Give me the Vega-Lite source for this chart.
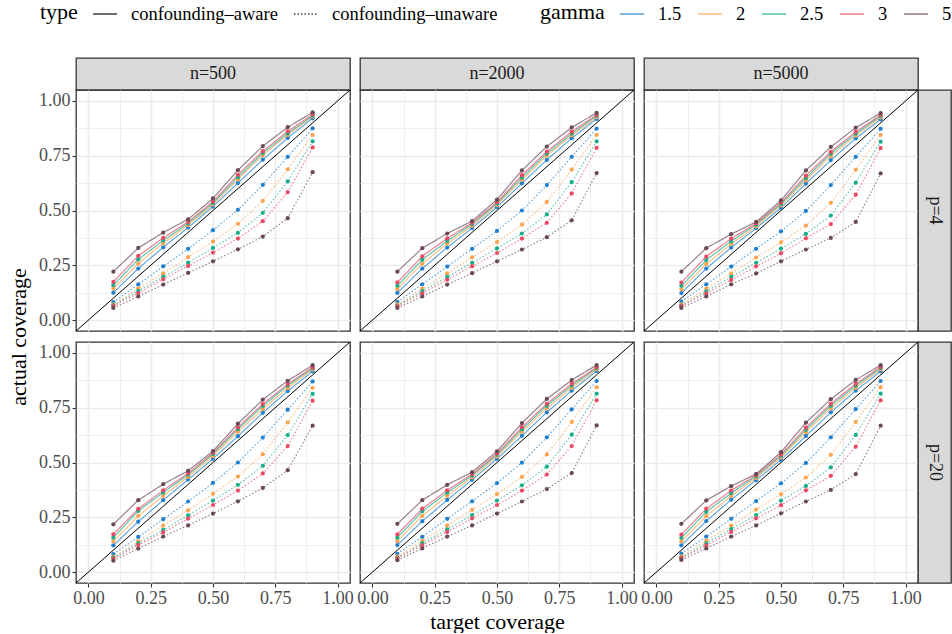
{
"$schema":"https://vega.github.io/schema/vega-lite/v6.json",
"padding":{"left":6,"top":1,"right":0,"bottom":0},
"autosize":{"type":"pad"},
"config":{
 "font":"Liberation Serif",
 "view":{"stroke":"#333333","strokeWidth":1.3},
 "style":{"guide-label":{"font":"Liberation Serif"},"guide-title":{"font":"Liberation Serif","fontWeight":"normal"}},
 "axis":{"labelFont":"Liberation Serif","labelFontSize":18,"labelColor":"#4D4D4D","tickColor":"#333333","tickSize":4,"tickWidth":1.1,"domain":false,"gridColor":"#EBEBEB","gridWidth":1.6,"titleFont":"Liberation Serif","titleFontSize":22,"titleFontWeight":"normal","titleColor":"black","labelFlush":false,"labelPadding":2},
 "legend":{"direction":"horizontal","titleOrient":"left","titleFont":"Liberation Serif","titleFontSize":22,"titleFontWeight":"normal","titleColor":"black","labelFont":"Liberation Serif","labelFontSize":18.5,"labelColor":"black","labelLimit":300,"symbolType":"stroke","symbolSize":576,"symbolStrokeWidth":1.5,"labelOffset":13,"columnPadding":13,"titlePadding":14,"gridAlign":"none"}
},
"data":{"values":[
{"n":500,"p":4,"g":"1.5","t":"aware","x":0.1,"y":0.125},{"n":500,"p":4,"g":"1.5","t":"aware","x":0.2,"y":0.235},{"n":500,"p":4,"g":"1.5","t":"aware","x":0.3,"y":0.332},{"n":500,"p":4,"g":"1.5","t":"aware","x":0.4,"y":0.422},{"n":500,"p":4,"g":"1.5","t":"aware","x":0.5,"y":0.518},{"n":500,"p":4,"g":"1.5","t":"aware","x":0.6,"y":0.625},{"n":500,"p":4,"g":"1.5","t":"aware","x":0.7,"y":0.732},{"n":500,"p":4,"g":"1.5","t":"aware","x":0.8,"y":0.831},{"n":500,"p":4,"g":"1.5","t":"aware","x":0.9,"y":0.921},
{"n":500,"p":4,"g":"2","t":"aware","x":0.1,"y":0.143},{"n":500,"p":4,"g":"2","t":"aware","x":0.2,"y":0.258},{"n":500,"p":4,"g":"2","t":"aware","x":0.3,"y":0.351},{"n":500,"p":4,"g":"2","t":"aware","x":0.4,"y":0.433},{"n":500,"p":4,"g":"2","t":"aware","x":0.5,"y":0.527},{"n":500,"p":4,"g":"2","t":"aware","x":0.6,"y":0.642},{"n":500,"p":4,"g":"2","t":"aware","x":0.7,"y":0.753},{"n":500,"p":4,"g":"2","t":"aware","x":0.8,"y":0.845},{"n":500,"p":4,"g":"2","t":"aware","x":0.9,"y":0.928},
{"n":500,"p":4,"g":"2.5","t":"aware","x":0.1,"y":0.159},{"n":500,"p":4,"g":"2.5","t":"aware","x":0.2,"y":0.277},{"n":500,"p":4,"g":"2.5","t":"aware","x":0.3,"y":0.363},{"n":500,"p":4,"g":"2.5","t":"aware","x":0.4,"y":0.441},{"n":500,"p":4,"g":"2.5","t":"aware","x":0.5,"y":0.534},{"n":500,"p":4,"g":"2.5","t":"aware","x":0.6,"y":0.652},{"n":500,"p":4,"g":"2.5","t":"aware","x":0.7,"y":0.762},{"n":500,"p":4,"g":"2.5","t":"aware","x":0.8,"y":0.852},{"n":500,"p":4,"g":"2.5","t":"aware","x":0.9,"y":0.933},
{"n":500,"p":4,"g":"3","t":"aware","x":0.1,"y":0.174},{"n":500,"p":4,"g":"3","t":"aware","x":0.2,"y":0.293},{"n":500,"p":4,"g":"3","t":"aware","x":0.3,"y":0.375},{"n":500,"p":4,"g":"3","t":"aware","x":0.4,"y":0.448},{"n":500,"p":4,"g":"3","t":"aware","x":0.5,"y":0.541},{"n":500,"p":4,"g":"3","t":"aware","x":0.6,"y":0.663},{"n":500,"p":4,"g":"3","t":"aware","x":0.7,"y":0.771},{"n":500,"p":4,"g":"3","t":"aware","x":0.8,"y":0.861},{"n":500,"p":4,"g":"3","t":"aware","x":0.9,"y":0.939},
{"n":500,"p":4,"g":"5","t":"aware","x":0.1,"y":0.221},{"n":500,"p":4,"g":"5","t":"aware","x":0.2,"y":0.329},{"n":500,"p":4,"g":"5","t":"aware","x":0.3,"y":0.399},{"n":500,"p":4,"g":"5","t":"aware","x":0.4,"y":0.46},{"n":500,"p":4,"g":"5","t":"aware","x":0.5,"y":0.555},{"n":500,"p":4,"g":"5","t":"aware","x":0.6,"y":0.684},{"n":500,"p":4,"g":"5","t":"aware","x":0.7,"y":0.794},{"n":500,"p":4,"g":"5","t":"aware","x":0.8,"y":0.88},{"n":500,"p":4,"g":"5","t":"aware","x":0.9,"y":0.948},
{"n":500,"p":4,"g":"1.5","t":"unaware","x":0.1,"y":0.082},{"n":500,"p":4,"g":"1.5","t":"unaware","x":0.2,"y":0.163},{"n":500,"p":4,"g":"1.5","t":"unaware","x":0.3,"y":0.245},{"n":500,"p":4,"g":"1.5","t":"unaware","x":0.4,"y":0.325},{"n":500,"p":4,"g":"1.5","t":"unaware","x":0.5,"y":0.41},{"n":500,"p":4,"g":"1.5","t":"unaware","x":0.6,"y":0.503},{"n":500,"p":4,"g":"1.5","t":"unaware","x":0.7,"y":0.617},{"n":500,"p":4,"g":"1.5","t":"unaware","x":0.8,"y":0.745},{"n":500,"p":4,"g":"1.5","t":"unaware","x":0.9,"y":0.875},
{"n":500,"p":4,"g":"2","t":"unaware","x":0.1,"y":0.072},{"n":500,"p":4,"g":"2","t":"unaware","x":0.2,"y":0.145},{"n":500,"p":4,"g":"2","t":"unaware","x":0.3,"y":0.213},{"n":500,"p":4,"g":"2","t":"unaware","x":0.4,"y":0.287},{"n":500,"p":4,"g":"2","t":"unaware","x":0.5,"y":0.358},{"n":500,"p":4,"g":"2","t":"unaware","x":0.6,"y":0.439},{"n":500,"p":4,"g":"2","t":"unaware","x":0.7,"y":0.544},{"n":500,"p":4,"g":"2","t":"unaware","x":0.8,"y":0.688},{"n":500,"p":4,"g":"2","t":"unaware","x":0.9,"y":0.845},
{"n":500,"p":4,"g":"2.5","t":"unaware","x":0.1,"y":0.067},{"n":500,"p":4,"g":"2.5","t":"unaware","x":0.2,"y":0.133},{"n":500,"p":4,"g":"2.5","t":"unaware","x":0.3,"y":0.197},{"n":500,"p":4,"g":"2.5","t":"unaware","x":0.4,"y":0.262},{"n":500,"p":4,"g":"2.5","t":"unaware","x":0.5,"y":0.329},{"n":500,"p":4,"g":"2.5","t":"unaware","x":0.6,"y":0.398},{"n":500,"p":4,"g":"2.5","t":"unaware","x":0.7,"y":0.489},{"n":500,"p":4,"g":"2.5","t":"unaware","x":0.8,"y":0.633},{"n":500,"p":4,"g":"2.5","t":"unaware","x":0.9,"y":0.816},
{"n":500,"p":4,"g":"3","t":"unaware","x":0.1,"y":0.064},{"n":500,"p":4,"g":"3","t":"unaware","x":0.2,"y":0.123},{"n":500,"p":4,"g":"3","t":"unaware","x":0.3,"y":0.186},{"n":500,"p":4,"g":"3","t":"unaware","x":0.4,"y":0.247},{"n":500,"p":4,"g":"3","t":"unaware","x":0.5,"y":0.308},{"n":500,"p":4,"g":"3","t":"unaware","x":0.6,"y":0.372},{"n":500,"p":4,"g":"3","t":"unaware","x":0.7,"y":0.451},{"n":500,"p":4,"g":"3","t":"unaware","x":0.8,"y":0.584},{"n":500,"p":4,"g":"3","t":"unaware","x":0.9,"y":0.788},
{"n":500,"p":4,"g":"5","t":"unaware","x":0.1,"y":0.055},{"n":500,"p":4,"g":"5","t":"unaware","x":0.2,"y":0.108},{"n":500,"p":4,"g":"5","t":"unaware","x":0.3,"y":0.162},{"n":500,"p":4,"g":"5","t":"unaware","x":0.4,"y":0.215},{"n":500,"p":4,"g":"5","t":"unaware","x":0.5,"y":0.268},{"n":500,"p":4,"g":"5","t":"unaware","x":0.6,"y":0.323},{"n":500,"p":4,"g":"5","t":"unaware","x":0.7,"y":0.381},{"n":500,"p":4,"g":"5","t":"unaware","x":0.8,"y":0.465},{"n":500,"p":4,"g":"5","t":"unaware","x":0.9,"y":0.675},
{"n":2000,"p":4,"g":"1.5","t":"aware","x":0.1,"y":0.124},{"n":2000,"p":4,"g":"1.5","t":"aware","x":0.2,"y":0.235},{"n":2000,"p":4,"g":"1.5","t":"aware","x":0.3,"y":0.331},{"n":2000,"p":4,"g":"1.5","t":"aware","x":0.4,"y":0.42},{"n":2000,"p":4,"g":"1.5","t":"aware","x":0.5,"y":0.515},{"n":2000,"p":4,"g":"1.5","t":"aware","x":0.6,"y":0.624},{"n":2000,"p":4,"g":"1.5","t":"aware","x":0.7,"y":0.731},{"n":2000,"p":4,"g":"1.5","t":"aware","x":0.8,"y":0.83},{"n":2000,"p":4,"g":"1.5","t":"aware","x":0.9,"y":0.918},
{"n":2000,"p":4,"g":"2","t":"aware","x":0.1,"y":0.141},{"n":2000,"p":4,"g":"2","t":"aware","x":0.2,"y":0.257},{"n":2000,"p":4,"g":"2","t":"aware","x":0.3,"y":0.349},{"n":2000,"p":4,"g":"2","t":"aware","x":0.4,"y":0.43},{"n":2000,"p":4,"g":"2","t":"aware","x":0.5,"y":0.525},{"n":2000,"p":4,"g":"2","t":"aware","x":0.6,"y":0.64},{"n":2000,"p":4,"g":"2","t":"aware","x":0.7,"y":0.75},{"n":2000,"p":4,"g":"2","t":"aware","x":0.8,"y":0.843},{"n":2000,"p":4,"g":"2","t":"aware","x":0.9,"y":0.926},
{"n":2000,"p":4,"g":"2.5","t":"aware","x":0.1,"y":0.157},{"n":2000,"p":4,"g":"2.5","t":"aware","x":0.2,"y":0.275},{"n":2000,"p":4,"g":"2.5","t":"aware","x":0.3,"y":0.361},{"n":2000,"p":4,"g":"2.5","t":"aware","x":0.4,"y":0.438},{"n":2000,"p":4,"g":"2.5","t":"aware","x":0.5,"y":0.532},{"n":2000,"p":4,"g":"2.5","t":"aware","x":0.6,"y":0.65},{"n":2000,"p":4,"g":"2.5","t":"aware","x":0.7,"y":0.76},{"n":2000,"p":4,"g":"2.5","t":"aware","x":0.8,"y":0.851},{"n":2000,"p":4,"g":"2.5","t":"aware","x":0.9,"y":0.932},
{"n":2000,"p":4,"g":"3","t":"aware","x":0.1,"y":0.172},{"n":2000,"p":4,"g":"3","t":"aware","x":0.2,"y":0.291},{"n":2000,"p":4,"g":"3","t":"aware","x":0.3,"y":0.373},{"n":2000,"p":4,"g":"3","t":"aware","x":0.4,"y":0.444},{"n":2000,"p":4,"g":"3","t":"aware","x":0.5,"y":0.538},{"n":2000,"p":4,"g":"3","t":"aware","x":0.6,"y":0.661},{"n":2000,"p":4,"g":"3","t":"aware","x":0.7,"y":0.769},{"n":2000,"p":4,"g":"3","t":"aware","x":0.8,"y":0.86},{"n":2000,"p":4,"g":"3","t":"aware","x":0.9,"y":0.937},
{"n":2000,"p":4,"g":"5","t":"aware","x":0.1,"y":0.221},{"n":2000,"p":4,"g":"5","t":"aware","x":0.2,"y":0.328},{"n":2000,"p":4,"g":"5","t":"aware","x":0.3,"y":0.395},{"n":2000,"p":4,"g":"5","t":"aware","x":0.4,"y":0.452},{"n":2000,"p":4,"g":"5","t":"aware","x":0.5,"y":0.55},{"n":2000,"p":4,"g":"5","t":"aware","x":0.6,"y":0.683},{"n":2000,"p":4,"g":"5","t":"aware","x":0.7,"y":0.792},{"n":2000,"p":4,"g":"5","t":"aware","x":0.8,"y":0.879},{"n":2000,"p":4,"g":"5","t":"aware","x":0.9,"y":0.946},
{"n":2000,"p":4,"g":"1.5","t":"unaware","x":0.1,"y":0.083},{"n":2000,"p":4,"g":"1.5","t":"unaware","x":0.2,"y":0.163},{"n":2000,"p":4,"g":"1.5","t":"unaware","x":0.3,"y":0.244},{"n":2000,"p":4,"g":"1.5","t":"unaware","x":0.4,"y":0.325},{"n":2000,"p":4,"g":"1.5","t":"unaware","x":0.5,"y":0.407},{"n":2000,"p":4,"g":"1.5","t":"unaware","x":0.6,"y":0.5},{"n":2000,"p":4,"g":"1.5","t":"unaware","x":0.7,"y":0.616},{"n":2000,"p":4,"g":"1.5","t":"unaware","x":0.8,"y":0.745},{"n":2000,"p":4,"g":"1.5","t":"unaware","x":0.9,"y":0.874},
{"n":2000,"p":4,"g":"2","t":"unaware","x":0.1,"y":0.072},{"n":2000,"p":4,"g":"2","t":"unaware","x":0.2,"y":0.144},{"n":2000,"p":4,"g":"2","t":"unaware","x":0.3,"y":0.213},{"n":2000,"p":4,"g":"2","t":"unaware","x":0.4,"y":0.286},{"n":2000,"p":4,"g":"2","t":"unaware","x":0.5,"y":0.356},{"n":2000,"p":4,"g":"2","t":"unaware","x":0.6,"y":0.435},{"n":2000,"p":4,"g":"2","t":"unaware","x":0.7,"y":0.539},{"n":2000,"p":4,"g":"2","t":"unaware","x":0.8,"y":0.687},{"n":2000,"p":4,"g":"2","t":"unaware","x":0.9,"y":0.845},
{"n":2000,"p":4,"g":"2.5","t":"unaware","x":0.1,"y":0.066},{"n":2000,"p":4,"g":"2.5","t":"unaware","x":0.2,"y":0.132},{"n":2000,"p":4,"g":"2.5","t":"unaware","x":0.3,"y":0.197},{"n":2000,"p":4,"g":"2.5","t":"unaware","x":0.4,"y":0.261},{"n":2000,"p":4,"g":"2.5","t":"unaware","x":0.5,"y":0.327},{"n":2000,"p":4,"g":"2.5","t":"unaware","x":0.6,"y":0.395},{"n":2000,"p":4,"g":"2.5","t":"unaware","x":0.7,"y":0.482},{"n":2000,"p":4,"g":"2.5","t":"unaware","x":0.8,"y":0.63},{"n":2000,"p":4,"g":"2.5","t":"unaware","x":0.9,"y":0.815},
{"n":2000,"p":4,"g":"3","t":"unaware","x":0.1,"y":0.063},{"n":2000,"p":4,"g":"3","t":"unaware","x":0.2,"y":0.122},{"n":2000,"p":4,"g":"3","t":"unaware","x":0.3,"y":0.184},{"n":2000,"p":4,"g":"3","t":"unaware","x":0.4,"y":0.246},{"n":2000,"p":4,"g":"3","t":"unaware","x":0.5,"y":0.306},{"n":2000,"p":4,"g":"3","t":"unaware","x":0.6,"y":0.372},{"n":2000,"p":4,"g":"3","t":"unaware","x":0.7,"y":0.444},{"n":2000,"p":4,"g":"3","t":"unaware","x":0.8,"y":0.578},{"n":2000,"p":4,"g":"3","t":"unaware","x":0.9,"y":0.786},
{"n":2000,"p":4,"g":"5","t":"unaware","x":0.1,"y":0.055},{"n":2000,"p":4,"g":"5","t":"unaware","x":0.2,"y":0.108},{"n":2000,"p":4,"g":"5","t":"unaware","x":0.3,"y":0.162},{"n":2000,"p":4,"g":"5","t":"unaware","x":0.4,"y":0.214},{"n":2000,"p":4,"g":"5","t":"unaware","x":0.5,"y":0.268},{"n":2000,"p":4,"g":"5","t":"unaware","x":0.6,"y":0.322},{"n":2000,"p":4,"g":"5","t":"unaware","x":0.7,"y":0.378},{"n":2000,"p":4,"g":"5","t":"unaware","x":0.8,"y":0.455},{"n":2000,"p":4,"g":"5","t":"unaware","x":0.9,"y":0.671},
{"n":5000,"p":4,"g":"1.5","t":"aware","x":0.1,"y":0.123},{"n":5000,"p":4,"g":"1.5","t":"aware","x":0.2,"y":0.235},{"n":5000,"p":4,"g":"1.5","t":"aware","x":0.3,"y":0.331},{"n":5000,"p":4,"g":"1.5","t":"aware","x":0.4,"y":0.419},{"n":5000,"p":4,"g":"1.5","t":"aware","x":0.5,"y":0.512},{"n":5000,"p":4,"g":"1.5","t":"aware","x":0.6,"y":0.623},{"n":5000,"p":4,"g":"1.5","t":"aware","x":0.7,"y":0.73},{"n":5000,"p":4,"g":"1.5","t":"aware","x":0.8,"y":0.829},{"n":5000,"p":4,"g":"1.5","t":"aware","x":0.9,"y":0.916},
{"n":5000,"p":4,"g":"2","t":"aware","x":0.1,"y":0.14},{"n":5000,"p":4,"g":"2","t":"aware","x":0.2,"y":0.256},{"n":5000,"p":4,"g":"2","t":"aware","x":0.3,"y":0.347},{"n":5000,"p":4,"g":"2","t":"aware","x":0.4,"y":0.428},{"n":5000,"p":4,"g":"2","t":"aware","x":0.5,"y":0.523},{"n":5000,"p":4,"g":"2","t":"aware","x":0.6,"y":0.638},{"n":5000,"p":4,"g":"2","t":"aware","x":0.7,"y":0.748},{"n":5000,"p":4,"g":"2","t":"aware","x":0.8,"y":0.842},{"n":5000,"p":4,"g":"2","t":"aware","x":0.9,"y":0.925},
{"n":5000,"p":4,"g":"2.5","t":"aware","x":0.1,"y":0.156},{"n":5000,"p":4,"g":"2.5","t":"aware","x":0.2,"y":0.274},{"n":5000,"p":4,"g":"2.5","t":"aware","x":0.3,"y":0.36},{"n":5000,"p":4,"g":"2.5","t":"aware","x":0.4,"y":0.436},{"n":5000,"p":4,"g":"2.5","t":"aware","x":0.5,"y":0.53},{"n":5000,"p":4,"g":"2.5","t":"aware","x":0.6,"y":0.648},{"n":5000,"p":4,"g":"2.5","t":"aware","x":0.7,"y":0.759},{"n":5000,"p":4,"g":"2.5","t":"aware","x":0.8,"y":0.851},{"n":5000,"p":4,"g":"2.5","t":"aware","x":0.9,"y":0.931},
{"n":5000,"p":4,"g":"3","t":"aware","x":0.1,"y":0.171},{"n":5000,"p":4,"g":"3","t":"aware","x":0.2,"y":0.29},{"n":5000,"p":4,"g":"3","t":"aware","x":0.3,"y":0.372},{"n":5000,"p":4,"g":"3","t":"aware","x":0.4,"y":0.441},{"n":5000,"p":4,"g":"3","t":"aware","x":0.5,"y":0.536},{"n":5000,"p":4,"g":"3","t":"aware","x":0.6,"y":0.659},{"n":5000,"p":4,"g":"3","t":"aware","x":0.7,"y":0.768},{"n":5000,"p":4,"g":"3","t":"aware","x":0.8,"y":0.859},{"n":5000,"p":4,"g":"3","t":"aware","x":0.9,"y":0.936},
{"n":5000,"p":4,"g":"5","t":"aware","x":0.1,"y":0.221},{"n":5000,"p":4,"g":"5","t":"aware","x":0.2,"y":0.328},{"n":5000,"p":4,"g":"5","t":"aware","x":0.3,"y":0.392},{"n":5000,"p":4,"g":"5","t":"aware","x":0.4,"y":0.448},{"n":5000,"p":4,"g":"5","t":"aware","x":0.5,"y":0.546},{"n":5000,"p":4,"g":"5","t":"aware","x":0.6,"y":0.683},{"n":5000,"p":4,"g":"5","t":"aware","x":0.7,"y":0.79},{"n":5000,"p":4,"g":"5","t":"aware","x":0.8,"y":0.878},{"n":5000,"p":4,"g":"5","t":"aware","x":0.9,"y":0.945},
{"n":5000,"p":4,"g":"1.5","t":"unaware","x":0.1,"y":0.084},{"n":5000,"p":4,"g":"1.5","t":"unaware","x":0.2,"y":0.163},{"n":5000,"p":4,"g":"1.5","t":"unaware","x":0.3,"y":0.244},{"n":5000,"p":4,"g":"1.5","t":"unaware","x":0.4,"y":0.325},{"n":5000,"p":4,"g":"1.5","t":"unaware","x":0.5,"y":0.405},{"n":5000,"p":4,"g":"1.5","t":"unaware","x":0.6,"y":0.498},{"n":5000,"p":4,"g":"1.5","t":"unaware","x":0.7,"y":0.616},{"n":5000,"p":4,"g":"1.5","t":"unaware","x":0.8,"y":0.745},{"n":5000,"p":4,"g":"1.5","t":"unaware","x":0.9,"y":0.873},
{"n":5000,"p":4,"g":"2","t":"unaware","x":0.1,"y":0.072},{"n":5000,"p":4,"g":"2","t":"unaware","x":0.2,"y":0.143},{"n":5000,"p":4,"g":"2","t":"unaware","x":0.3,"y":0.213},{"n":5000,"p":4,"g":"2","t":"unaware","x":0.4,"y":0.285},{"n":5000,"p":4,"g":"2","t":"unaware","x":0.5,"y":0.355},{"n":5000,"p":4,"g":"2","t":"unaware","x":0.6,"y":0.431},{"n":5000,"p":4,"g":"2","t":"unaware","x":0.7,"y":0.535},{"n":5000,"p":4,"g":"2","t":"unaware","x":0.8,"y":0.686},{"n":5000,"p":4,"g":"2","t":"unaware","x":0.9,"y":0.845},
{"n":5000,"p":4,"g":"2.5","t":"unaware","x":0.1,"y":0.066},{"n":5000,"p":4,"g":"2.5","t":"unaware","x":0.2,"y":0.131},{"n":5000,"p":4,"g":"2.5","t":"unaware","x":0.3,"y":0.197},{"n":5000,"p":4,"g":"2.5","t":"unaware","x":0.4,"y":0.261},{"n":5000,"p":4,"g":"2.5","t":"unaware","x":0.5,"y":0.326},{"n":5000,"p":4,"g":"2.5","t":"unaware","x":0.6,"y":0.393},{"n":5000,"p":4,"g":"2.5","t":"unaware","x":0.7,"y":0.477},{"n":5000,"p":4,"g":"2.5","t":"unaware","x":0.8,"y":0.627},{"n":5000,"p":4,"g":"2.5","t":"unaware","x":0.9,"y":0.814},
{"n":5000,"p":4,"g":"3","t":"unaware","x":0.1,"y":0.063},{"n":5000,"p":4,"g":"3","t":"unaware","x":0.2,"y":0.122},{"n":5000,"p":4,"g":"3","t":"unaware","x":0.3,"y":0.183},{"n":5000,"p":4,"g":"3","t":"unaware","x":0.4,"y":0.245},{"n":5000,"p":4,"g":"3","t":"unaware","x":0.5,"y":0.305},{"n":5000,"p":4,"g":"3","t":"unaware","x":0.6,"y":0.373},{"n":5000,"p":4,"g":"3","t":"unaware","x":0.7,"y":0.438},{"n":5000,"p":4,"g":"3","t":"unaware","x":0.8,"y":0.572},{"n":5000,"p":4,"g":"3","t":"unaware","x":0.9,"y":0.785},
{"n":5000,"p":4,"g":"5","t":"unaware","x":0.1,"y":0.055},{"n":5000,"p":4,"g":"5","t":"unaware","x":0.2,"y":0.108},{"n":5000,"p":4,"g":"5","t":"unaware","x":0.3,"y":0.163},{"n":5000,"p":4,"g":"5","t":"unaware","x":0.4,"y":0.213},{"n":5000,"p":4,"g":"5","t":"unaware","x":0.5,"y":0.268},{"n":5000,"p":4,"g":"5","t":"unaware","x":0.6,"y":0.322},{"n":5000,"p":4,"g":"5","t":"unaware","x":0.7,"y":0.375},{"n":5000,"p":4,"g":"5","t":"unaware","x":0.8,"y":0.448},{"n":5000,"p":4,"g":"5","t":"unaware","x":0.9,"y":0.669},
{"n":500,"p":20,"g":"1.5","t":"aware","x":0.1,"y":0.122},{"n":500,"p":20,"g":"1.5","t":"aware","x":0.2,"y":0.23},{"n":500,"p":20,"g":"1.5","t":"aware","x":0.3,"y":0.328},{"n":500,"p":20,"g":"1.5","t":"aware","x":0.4,"y":0.422},{"n":500,"p":20,"g":"1.5","t":"aware","x":0.5,"y":0.517},{"n":500,"p":20,"g":"1.5","t":"aware","x":0.6,"y":0.62},{"n":500,"p":20,"g":"1.5","t":"aware","x":0.7,"y":0.727},{"n":500,"p":20,"g":"1.5","t":"aware","x":0.8,"y":0.826},{"n":500,"p":20,"g":"1.5","t":"aware","x":0.9,"y":0.916},
{"n":500,"p":20,"g":"2","t":"aware","x":0.1,"y":0.14},{"n":500,"p":20,"g":"2","t":"aware","x":0.2,"y":0.256},{"n":500,"p":20,"g":"2","t":"aware","x":0.3,"y":0.348},{"n":500,"p":20,"g":"2","t":"aware","x":0.4,"y":0.434},{"n":500,"p":20,"g":"2","t":"aware","x":0.5,"y":0.529},{"n":500,"p":20,"g":"2","t":"aware","x":0.6,"y":0.64},{"n":500,"p":20,"g":"2","t":"aware","x":0.7,"y":0.744},{"n":500,"p":20,"g":"2","t":"aware","x":0.8,"y":0.84},{"n":500,"p":20,"g":"2","t":"aware","x":0.9,"y":0.924},
{"n":500,"p":20,"g":"2.5","t":"aware","x":0.1,"y":0.157},{"n":500,"p":20,"g":"2.5","t":"aware","x":0.2,"y":0.279},{"n":500,"p":20,"g":"2.5","t":"aware","x":0.3,"y":0.363},{"n":500,"p":20,"g":"2.5","t":"aware","x":0.4,"y":0.444},{"n":500,"p":20,"g":"2.5","t":"aware","x":0.5,"y":0.538},{"n":500,"p":20,"g":"2.5","t":"aware","x":0.6,"y":0.652},{"n":500,"p":20,"g":"2.5","t":"aware","x":0.7,"y":0.758},{"n":500,"p":20,"g":"2.5","t":"aware","x":0.8,"y":0.851},{"n":500,"p":20,"g":"2.5","t":"aware","x":0.9,"y":0.93},
{"n":500,"p":20,"g":"3","t":"aware","x":0.1,"y":0.172},{"n":500,"p":20,"g":"3","t":"aware","x":0.2,"y":0.288},{"n":500,"p":20,"g":"3","t":"aware","x":0.3,"y":0.373},{"n":500,"p":20,"g":"3","t":"aware","x":0.4,"y":0.45},{"n":500,"p":20,"g":"3","t":"aware","x":0.5,"y":0.544},{"n":500,"p":20,"g":"3","t":"aware","x":0.6,"y":0.66},{"n":500,"p":20,"g":"3","t":"aware","x":0.7,"y":0.767},{"n":500,"p":20,"g":"3","t":"aware","x":0.8,"y":0.858},{"n":500,"p":20,"g":"3","t":"aware","x":0.9,"y":0.934},
{"n":500,"p":20,"g":"5","t":"aware","x":0.1,"y":0.218},{"n":500,"p":20,"g":"5","t":"aware","x":0.2,"y":0.328},{"n":500,"p":20,"g":"5","t":"aware","x":0.3,"y":0.401},{"n":500,"p":20,"g":"5","t":"aware","x":0.4,"y":0.462},{"n":500,"p":20,"g":"5","t":"aware","x":0.5,"y":0.552},{"n":500,"p":20,"g":"5","t":"aware","x":0.6,"y":0.677},{"n":500,"p":20,"g":"5","t":"aware","x":0.7,"y":0.787},{"n":500,"p":20,"g":"5","t":"aware","x":0.8,"y":0.873},{"n":500,"p":20,"g":"5","t":"aware","x":0.9,"y":0.944},
{"n":500,"p":20,"g":"1.5","t":"unaware","x":0.1,"y":0.082},{"n":500,"p":20,"g":"1.5","t":"unaware","x":0.2,"y":0.16},{"n":500,"p":20,"g":"1.5","t":"unaware","x":0.3,"y":0.241},{"n":500,"p":20,"g":"1.5","t":"unaware","x":0.4,"y":0.322},{"n":500,"p":20,"g":"1.5","t":"unaware","x":0.5,"y":0.407},{"n":500,"p":20,"g":"1.5","t":"unaware","x":0.6,"y":0.5},{"n":500,"p":20,"g":"1.5","t":"unaware","x":0.7,"y":0.614},{"n":500,"p":20,"g":"1.5","t":"unaware","x":0.8,"y":0.741},{"n":500,"p":20,"g":"1.5","t":"unaware","x":0.9,"y":0.87},
{"n":500,"p":20,"g":"2","t":"unaware","x":0.1,"y":0.07},{"n":500,"p":20,"g":"2","t":"unaware","x":0.2,"y":0.14},{"n":500,"p":20,"g":"2","t":"unaware","x":0.3,"y":0.212},{"n":500,"p":20,"g":"2","t":"unaware","x":0.4,"y":0.282},{"n":500,"p":20,"g":"2","t":"unaware","x":0.5,"y":0.357},{"n":500,"p":20,"g":"2","t":"unaware","x":0.6,"y":0.436},{"n":500,"p":20,"g":"2","t":"unaware","x":0.7,"y":0.538},{"n":500,"p":20,"g":"2","t":"unaware","x":0.8,"y":0.683},{"n":500,"p":20,"g":"2","t":"unaware","x":0.9,"y":0.841},
{"n":500,"p":20,"g":"2.5","t":"unaware","x":0.1,"y":0.066},{"n":500,"p":20,"g":"2.5","t":"unaware","x":0.2,"y":0.131},{"n":500,"p":20,"g":"2.5","t":"unaware","x":0.3,"y":0.192},{"n":500,"p":20,"g":"2.5","t":"unaware","x":0.4,"y":0.259},{"n":500,"p":20,"g":"2.5","t":"unaware","x":0.5,"y":0.326},{"n":500,"p":20,"g":"2.5","t":"unaware","x":0.6,"y":0.398},{"n":500,"p":20,"g":"2.5","t":"unaware","x":0.7,"y":0.485},{"n":500,"p":20,"g":"2.5","t":"unaware","x":0.8,"y":0.625},{"n":500,"p":20,"g":"2.5","t":"unaware","x":0.9,"y":0.813},
{"n":500,"p":20,"g":"3","t":"unaware","x":0.1,"y":0.061},{"n":500,"p":20,"g":"3","t":"unaware","x":0.2,"y":0.123},{"n":500,"p":20,"g":"3","t":"unaware","x":0.3,"y":0.181},{"n":500,"p":20,"g":"3","t":"unaware","x":0.4,"y":0.244},{"n":500,"p":20,"g":"3","t":"unaware","x":0.5,"y":0.306},{"n":500,"p":20,"g":"3","t":"unaware","x":0.6,"y":0.372},{"n":500,"p":20,"g":"3","t":"unaware","x":0.7,"y":0.45},{"n":500,"p":20,"g":"3","t":"unaware","x":0.8,"y":0.575},{"n":500,"p":20,"g":"3","t":"unaware","x":0.9,"y":0.782},
{"n":500,"p":20,"g":"5","t":"unaware","x":0.1,"y":0.052},{"n":500,"p":20,"g":"5","t":"unaware","x":0.2,"y":0.107},{"n":500,"p":20,"g":"5","t":"unaware","x":0.3,"y":0.162},{"n":500,"p":20,"g":"5","t":"unaware","x":0.4,"y":0.213},{"n":500,"p":20,"g":"5","t":"unaware","x":0.5,"y":0.267},{"n":500,"p":20,"g":"5","t":"unaware","x":0.6,"y":0.323},{"n":500,"p":20,"g":"5","t":"unaware","x":0.7,"y":0.384},{"n":500,"p":20,"g":"5","t":"unaware","x":0.8,"y":0.465},{"n":500,"p":20,"g":"5","t":"unaware","x":0.9,"y":0.668},
{"n":2000,"p":20,"g":"1.5","t":"aware","x":0.1,"y":0.123},{"n":2000,"p":20,"g":"1.5","t":"aware","x":0.2,"y":0.232},{"n":2000,"p":20,"g":"1.5","t":"aware","x":0.3,"y":0.329},{"n":2000,"p":20,"g":"1.5","t":"aware","x":0.4,"y":0.421},{"n":2000,"p":20,"g":"1.5","t":"aware","x":0.5,"y":0.516},{"n":2000,"p":20,"g":"1.5","t":"aware","x":0.6,"y":0.622},{"n":2000,"p":20,"g":"1.5","t":"aware","x":0.7,"y":0.729},{"n":2000,"p":20,"g":"1.5","t":"aware","x":0.8,"y":0.828},{"n":2000,"p":20,"g":"1.5","t":"aware","x":0.9,"y":0.917},
{"n":2000,"p":20,"g":"2","t":"aware","x":0.1,"y":0.141},{"n":2000,"p":20,"g":"2","t":"aware","x":0.2,"y":0.256},{"n":2000,"p":20,"g":"2","t":"aware","x":0.3,"y":0.348},{"n":2000,"p":20,"g":"2","t":"aware","x":0.4,"y":0.432},{"n":2000,"p":20,"g":"2","t":"aware","x":0.5,"y":0.527},{"n":2000,"p":20,"g":"2","t":"aware","x":0.6,"y":0.64},{"n":2000,"p":20,"g":"2","t":"aware","x":0.7,"y":0.747},{"n":2000,"p":20,"g":"2","t":"aware","x":0.8,"y":0.841},{"n":2000,"p":20,"g":"2","t":"aware","x":0.9,"y":0.925},
{"n":2000,"p":20,"g":"2.5","t":"aware","x":0.1,"y":0.157},{"n":2000,"p":20,"g":"2.5","t":"aware","x":0.2,"y":0.277},{"n":2000,"p":20,"g":"2.5","t":"aware","x":0.3,"y":0.362},{"n":2000,"p":20,"g":"2.5","t":"aware","x":0.4,"y":0.441},{"n":2000,"p":20,"g":"2.5","t":"aware","x":0.5,"y":0.535},{"n":2000,"p":20,"g":"2.5","t":"aware","x":0.6,"y":0.651},{"n":2000,"p":20,"g":"2.5","t":"aware","x":0.7,"y":0.759},{"n":2000,"p":20,"g":"2.5","t":"aware","x":0.8,"y":0.851},{"n":2000,"p":20,"g":"2.5","t":"aware","x":0.9,"y":0.931},
{"n":2000,"p":20,"g":"3","t":"aware","x":0.1,"y":0.172},{"n":2000,"p":20,"g":"3","t":"aware","x":0.2,"y":0.289},{"n":2000,"p":20,"g":"3","t":"aware","x":0.3,"y":0.373},{"n":2000,"p":20,"g":"3","t":"aware","x":0.4,"y":0.447},{"n":2000,"p":20,"g":"3","t":"aware","x":0.5,"y":0.541},{"n":2000,"p":20,"g":"3","t":"aware","x":0.6,"y":0.661},{"n":2000,"p":20,"g":"3","t":"aware","x":0.7,"y":0.768},{"n":2000,"p":20,"g":"3","t":"aware","x":0.8,"y":0.859},{"n":2000,"p":20,"g":"3","t":"aware","x":0.9,"y":0.935},
{"n":2000,"p":20,"g":"5","t":"aware","x":0.1,"y":0.22},{"n":2000,"p":20,"g":"5","t":"aware","x":0.2,"y":0.328},{"n":2000,"p":20,"g":"5","t":"aware","x":0.3,"y":0.398},{"n":2000,"p":20,"g":"5","t":"aware","x":0.4,"y":0.456},{"n":2000,"p":20,"g":"5","t":"aware","x":0.5,"y":0.551},{"n":2000,"p":20,"g":"5","t":"aware","x":0.6,"y":0.68},{"n":2000,"p":20,"g":"5","t":"aware","x":0.7,"y":0.79},{"n":2000,"p":20,"g":"5","t":"aware","x":0.8,"y":0.876},{"n":2000,"p":20,"g":"5","t":"aware","x":0.9,"y":0.945},
{"n":2000,"p":20,"g":"1.5","t":"unaware","x":0.1,"y":0.083},{"n":2000,"p":20,"g":"1.5","t":"unaware","x":0.2,"y":0.161},{"n":2000,"p":20,"g":"1.5","t":"unaware","x":0.3,"y":0.243},{"n":2000,"p":20,"g":"1.5","t":"unaware","x":0.4,"y":0.323},{"n":2000,"p":20,"g":"1.5","t":"unaware","x":0.5,"y":0.406},{"n":2000,"p":20,"g":"1.5","t":"unaware","x":0.6,"y":0.499},{"n":2000,"p":20,"g":"1.5","t":"unaware","x":0.7,"y":0.615},{"n":2000,"p":20,"g":"1.5","t":"unaware","x":0.8,"y":0.743},{"n":2000,"p":20,"g":"1.5","t":"unaware","x":0.9,"y":0.872},
{"n":2000,"p":20,"g":"2","t":"unaware","x":0.1,"y":0.071},{"n":2000,"p":20,"g":"2","t":"unaware","x":0.2,"y":0.142},{"n":2000,"p":20,"g":"2","t":"unaware","x":0.3,"y":0.212},{"n":2000,"p":20,"g":"2","t":"unaware","x":0.4,"y":0.284},{"n":2000,"p":20,"g":"2","t":"unaware","x":0.5,"y":0.356},{"n":2000,"p":20,"g":"2","t":"unaware","x":0.6,"y":0.434},{"n":2000,"p":20,"g":"2","t":"unaware","x":0.7,"y":0.537},{"n":2000,"p":20,"g":"2","t":"unaware","x":0.8,"y":0.685},{"n":2000,"p":20,"g":"2","t":"unaware","x":0.9,"y":0.843},
{"n":2000,"p":20,"g":"2.5","t":"unaware","x":0.1,"y":0.066},{"n":2000,"p":20,"g":"2.5","t":"unaware","x":0.2,"y":0.131},{"n":2000,"p":20,"g":"2.5","t":"unaware","x":0.3,"y":0.195},{"n":2000,"p":20,"g":"2.5","t":"unaware","x":0.4,"y":0.26},{"n":2000,"p":20,"g":"2.5","t":"unaware","x":0.5,"y":0.326},{"n":2000,"p":20,"g":"2.5","t":"unaware","x":0.6,"y":0.396},{"n":2000,"p":20,"g":"2.5","t":"unaware","x":0.7,"y":0.481},{"n":2000,"p":20,"g":"2.5","t":"unaware","x":0.8,"y":0.627},{"n":2000,"p":20,"g":"2.5","t":"unaware","x":0.9,"y":0.814},
{"n":2000,"p":20,"g":"3","t":"unaware","x":0.1,"y":0.062},{"n":2000,"p":20,"g":"3","t":"unaware","x":0.2,"y":0.122},{"n":2000,"p":20,"g":"3","t":"unaware","x":0.3,"y":0.183},{"n":2000,"p":20,"g":"3","t":"unaware","x":0.4,"y":0.245},{"n":2000,"p":20,"g":"3","t":"unaware","x":0.5,"y":0.306},{"n":2000,"p":20,"g":"3","t":"unaware","x":0.6,"y":0.372},{"n":2000,"p":20,"g":"3","t":"unaware","x":0.7,"y":0.445},{"n":2000,"p":20,"g":"3","t":"unaware","x":0.8,"y":0.575},{"n":2000,"p":20,"g":"3","t":"unaware","x":0.9,"y":0.784},
{"n":2000,"p":20,"g":"5","t":"unaware","x":0.1,"y":0.054},{"n":2000,"p":20,"g":"5","t":"unaware","x":0.2,"y":0.108},{"n":2000,"p":20,"g":"5","t":"unaware","x":0.3,"y":0.162},{"n":2000,"p":20,"g":"5","t":"unaware","x":0.4,"y":0.213},{"n":2000,"p":20,"g":"5","t":"unaware","x":0.5,"y":0.267},{"n":2000,"p":20,"g":"5","t":"unaware","x":0.6,"y":0.322},{"n":2000,"p":20,"g":"5","t":"unaware","x":0.7,"y":0.379},{"n":2000,"p":20,"g":"5","t":"unaware","x":0.8,"y":0.452},{"n":2000,"p":20,"g":"5","t":"unaware","x":0.9,"y":0.669},
{"n":5000,"p":20,"g":"1.5","t":"aware","x":0.1,"y":0.122},{"n":5000,"p":20,"g":"1.5","t":"aware","x":0.2,"y":0.233},{"n":5000,"p":20,"g":"1.5","t":"aware","x":0.3,"y":0.33},{"n":5000,"p":20,"g":"1.5","t":"aware","x":0.4,"y":0.419},{"n":5000,"p":20,"g":"1.5","t":"aware","x":0.5,"y":0.512},{"n":5000,"p":20,"g":"1.5","t":"aware","x":0.6,"y":0.621},{"n":5000,"p":20,"g":"1.5","t":"aware","x":0.7,"y":0.729},{"n":5000,"p":20,"g":"1.5","t":"aware","x":0.8,"y":0.828},{"n":5000,"p":20,"g":"1.5","t":"aware","x":0.9,"y":0.916},
{"n":5000,"p":20,"g":"2","t":"aware","x":0.1,"y":0.14},{"n":5000,"p":20,"g":"2","t":"aware","x":0.2,"y":0.255},{"n":5000,"p":20,"g":"2","t":"aware","x":0.3,"y":0.347},{"n":5000,"p":20,"g":"2","t":"aware","x":0.4,"y":0.429},{"n":5000,"p":20,"g":"2","t":"aware","x":0.5,"y":0.523},{"n":5000,"p":20,"g":"2","t":"aware","x":0.6,"y":0.638},{"n":5000,"p":20,"g":"2","t":"aware","x":0.7,"y":0.747},{"n":5000,"p":20,"g":"2","t":"aware","x":0.8,"y":0.841},{"n":5000,"p":20,"g":"2","t":"aware","x":0.9,"y":0.925},
{"n":5000,"p":20,"g":"2.5","t":"aware","x":0.1,"y":0.156},{"n":5000,"p":20,"g":"2.5","t":"aware","x":0.2,"y":0.275},{"n":5000,"p":20,"g":"2.5","t":"aware","x":0.3,"y":0.36},{"n":5000,"p":20,"g":"2.5","t":"aware","x":0.4,"y":0.437},{"n":5000,"p":20,"g":"2.5","t":"aware","x":0.5,"y":0.53},{"n":5000,"p":20,"g":"2.5","t":"aware","x":0.6,"y":0.649},{"n":5000,"p":20,"g":"2.5","t":"aware","x":0.7,"y":0.759},{"n":5000,"p":20,"g":"2.5","t":"aware","x":0.8,"y":0.851},{"n":5000,"p":20,"g":"2.5","t":"aware","x":0.9,"y":0.931},
{"n":5000,"p":20,"g":"3","t":"aware","x":0.1,"y":0.171},{"n":5000,"p":20,"g":"3","t":"aware","x":0.2,"y":0.289},{"n":5000,"p":20,"g":"3","t":"aware","x":0.3,"y":0.372},{"n":5000,"p":20,"g":"3","t":"aware","x":0.4,"y":0.442},{"n":5000,"p":20,"g":"3","t":"aware","x":0.5,"y":0.536},{"n":5000,"p":20,"g":"3","t":"aware","x":0.6,"y":0.659},{"n":5000,"p":20,"g":"3","t":"aware","x":0.7,"y":0.768},{"n":5000,"p":20,"g":"3","t":"aware","x":0.8,"y":0.859},{"n":5000,"p":20,"g":"3","t":"aware","x":0.9,"y":0.936},
{"n":5000,"p":20,"g":"5","t":"aware","x":0.1,"y":0.22},{"n":5000,"p":20,"g":"5","t":"aware","x":0.2,"y":0.327},{"n":5000,"p":20,"g":"5","t":"aware","x":0.3,"y":0.392},{"n":5000,"p":20,"g":"5","t":"aware","x":0.4,"y":0.448},{"n":5000,"p":20,"g":"5","t":"aware","x":0.5,"y":0.547},{"n":5000,"p":20,"g":"5","t":"aware","x":0.6,"y":0.682},{"n":5000,"p":20,"g":"5","t":"aware","x":0.7,"y":0.789},{"n":5000,"p":20,"g":"5","t":"aware","x":0.8,"y":0.877},{"n":5000,"p":20,"g":"5","t":"aware","x":0.9,"y":0.944},
{"n":5000,"p":20,"g":"1.5","t":"unaware","x":0.1,"y":0.084},{"n":5000,"p":20,"g":"1.5","t":"unaware","x":0.2,"y":0.162},{"n":5000,"p":20,"g":"1.5","t":"unaware","x":0.3,"y":0.243},{"n":5000,"p":20,"g":"1.5","t":"unaware","x":0.4,"y":0.324},{"n":5000,"p":20,"g":"1.5","t":"unaware","x":0.5,"y":0.405},{"n":5000,"p":20,"g":"1.5","t":"unaware","x":0.6,"y":0.498},{"n":5000,"p":20,"g":"1.5","t":"unaware","x":0.7,"y":0.615},{"n":5000,"p":20,"g":"1.5","t":"unaware","x":0.8,"y":0.744},{"n":5000,"p":20,"g":"1.5","t":"unaware","x":0.9,"y":0.872},
{"n":5000,"p":20,"g":"2","t":"unaware","x":0.1,"y":0.072},{"n":5000,"p":20,"g":"2","t":"unaware","x":0.2,"y":0.143},{"n":5000,"p":20,"g":"2","t":"unaware","x":0.3,"y":0.212},{"n":5000,"p":20,"g":"2","t":"unaware","x":0.4,"y":0.285},{"n":5000,"p":20,"g":"2","t":"unaware","x":0.5,"y":0.355},{"n":5000,"p":20,"g":"2","t":"unaware","x":0.6,"y":0.431},{"n":5000,"p":20,"g":"2","t":"unaware","x":0.7,"y":0.535},{"n":5000,"p":20,"g":"2","t":"unaware","x":0.8,"y":0.685},{"n":5000,"p":20,"g":"2","t":"unaware","x":0.9,"y":0.844},
{"n":5000,"p":20,"g":"2.5","t":"unaware","x":0.1,"y":0.066},{"n":5000,"p":20,"g":"2.5","t":"unaware","x":0.2,"y":0.131},{"n":5000,"p":20,"g":"2.5","t":"unaware","x":0.3,"y":0.196},{"n":5000,"p":20,"g":"2.5","t":"unaware","x":0.4,"y":0.26},{"n":5000,"p":20,"g":"2.5","t":"unaware","x":0.5,"y":0.326},{"n":5000,"p":20,"g":"2.5","t":"unaware","x":0.6,"y":0.393},{"n":5000,"p":20,"g":"2.5","t":"unaware","x":0.7,"y":0.478},{"n":5000,"p":20,"g":"2.5","t":"unaware","x":0.8,"y":0.626},{"n":5000,"p":20,"g":"2.5","t":"unaware","x":0.9,"y":0.814},
{"n":5000,"p":20,"g":"3","t":"unaware","x":0.1,"y":0.063},{"n":5000,"p":20,"g":"3","t":"unaware","x":0.2,"y":0.122},{"n":5000,"p":20,"g":"3","t":"unaware","x":0.3,"y":0.183},{"n":5000,"p":20,"g":"3","t":"unaware","x":0.4,"y":0.245},{"n":5000,"p":20,"g":"3","t":"unaware","x":0.5,"y":0.305},{"n":5000,"p":20,"g":"3","t":"unaware","x":0.6,"y":0.373},{"n":5000,"p":20,"g":"3","t":"unaware","x":0.7,"y":0.439},{"n":5000,"p":20,"g":"3","t":"unaware","x":0.8,"y":0.572},{"n":5000,"p":20,"g":"3","t":"unaware","x":0.9,"y":0.784},
{"n":5000,"p":20,"g":"5","t":"unaware","x":0.1,"y":0.055},{"n":5000,"p":20,"g":"5","t":"unaware","x":0.2,"y":0.108},{"n":5000,"p":20,"g":"5","t":"unaware","x":0.3,"y":0.162},{"n":5000,"p":20,"g":"5","t":"unaware","x":0.4,"y":0.213},{"n":5000,"p":20,"g":"5","t":"unaware","x":0.5,"y":0.268},{"n":5000,"p":20,"g":"5","t":"unaware","x":0.6,"y":0.322},{"n":5000,"p":20,"g":"5","t":"unaware","x":0.7,"y":0.375},{"n":5000,"p":20,"g":"5","t":"unaware","x":0.8,"y":0.447},{"n":5000,"p":20,"g":"5","t":"unaware","x":0.9,"y":0.668}
]},
"columns":6,
"spacing":0,
"bounds":"flush",
"align":"each",
"resolve":{"scale":{"color":"shared","strokeDash":"shared","fill":"shared"},"legend":{"color":"shared","strokeDash":"shared"}},
"concat":[
 {"width":274,"height":32,"data":{"values":[{"lab":"n=500"}]},"mark":{"type":"text","font":"Liberation Serif","fontSize":18,"color":"#1A1A1A"},"encoding":{"text":{"field":"lab"}},"view":{"fill":"#D9D9D9","stroke":"#333333","strokeWidth":1.3}},
 {"width":10,"height":32,"data":{"values":[]},"mark":"text","encoding":{},"view":{"stroke":null}},
 {"width":274,"height":32,"data":{"values":[{"lab":"n=2000"}]},"mark":{"type":"text","font":"Liberation Serif","fontSize":18,"color":"#1A1A1A"},"encoding":{"text":{"field":"lab"}},"view":{"fill":"#D9D9D9","stroke":"#333333","strokeWidth":1.3}},
 {"width":10,"height":32,"data":{"values":[]},"mark":"text","encoding":{},"view":{"stroke":null}},
 {"width":274,"height":32,"data":{"values":[{"lab":"n=5000"}]},"mark":{"type":"text","font":"Liberation Serif","fontSize":18,"color":"#1A1A1A"},"encoding":{"text":{"field":"lab"}},"view":{"fill":"#D9D9D9","stroke":"#333333","strokeWidth":1.3}},
 {"width":33,"height":32,"data":{"values":[]},"mark":"text","encoding":{},"view":{"stroke":null}},

 {"width":274,"height":241,"layer":[
  {"data":{"values":[{}]},"mark":{"type":"rule","color":"black","strokeWidth":1},"encoding":{"x":{"datum":-0.05,"type":"quantitative","scale":{"domain":[-0.05,1.05],"nice":false,"zero":false},"axis":{"orient":"top","values":[0.125,0.375,0.625,0.875],"grid":true,"gridWidth":0.8,"labels":false,"ticks":false,"title":null}},"x2":{"datum":1.05},"y":{"datum":-0.05,"type":"quantitative","scale":{"domain":[-0.05,1.05],"nice":false,"zero":false},"axis":{"orient":"right","values":[0.125,0.375,0.625,0.875],"grid":true,"gridWidth":0.8,"labels":false,"ticks":false,"title":null}},"y2":{"datum":1.05}}},
  {"transform":[{"filter":"datum.n==500 && datum.p==4"}],"mark":{"type":"line","strokeWidth":1.1,"opacity":0.75},"encoding":{
   "x":{"field":"x","type":"quantitative","scale":{"domain":[-0.05,1.05],"nice":false,"zero":false},"axis":{"values":[0,0.25,0.5,0.75,1],"grid":true,"labels":false,"ticks":false,"title":null}},
   "y":{"field":"y","type":"quantitative","scale":{"domain":[-0.05,1.05],"nice":false,"zero":false},"axis":{"values":[0,0.25,0.5,0.75,1],"format":".2f","grid":true,"title":null}},
   "color":{"field":"g","type":"nominal","scale":{"domain":["1.5","2","2.5","3","5"],"range":["#1F80CF","#FDA550","#18AE88","#EC4A63","#6A4A55"]},"legend":{"title":"gamma","orient":"none","legendX":464,"legendY":-57}},
   "strokeDash":{"field":"t","type":"nominal","scale":{"domain":["aware","unaware"],"range":[[1,0],[1.5,2]]},"legend":{"title":"type","orient":"none","legendX":-36,"legendY":-57,"labelExpr":"'confounding–' + datum.label","symbolStrokeColor":"black"}}}},
  {"transform":[{"filter":"datum.n==500 && datum.p==4"}],"mark":{"type":"point","filled":true,"size":18,"opacity":1},"encoding":{
   "x":{"field":"x","type":"quantitative","scale":{"domain":[-0.05,1.05],"nice":false,"zero":false},"axis":null},
   "y":{"field":"y","type":"quantitative","scale":{"domain":[-0.05,1.05],"nice":false,"zero":false},"axis":null},
   "fill":{"field":"g","type":"nominal","scale":{"domain":["1.5","2","2.5","3","5"],"range":["#1F80CF","#FDA550","#18AE88","#EC4A63","#6A4A55"]},"legend":null}}}
 ],"resolve":{"axis":{"x":"independent","y":"independent"}}},
 {"width":10,"height":1,"data":{"values":[]},"mark":"text","encoding":{},"view":{"stroke":null}},
 {"width":274,"height":241,"layer":[
  {"data":{"values":[{}]},"mark":{"type":"rule","color":"black","strokeWidth":1},"encoding":{"x":{"datum":-0.05,"type":"quantitative","scale":{"domain":[-0.05,1.05],"nice":false,"zero":false},"axis":{"orient":"top","values":[0.125,0.375,0.625,0.875],"grid":true,"gridWidth":0.8,"labels":false,"ticks":false,"title":null}},"x2":{"datum":1.05},"y":{"datum":-0.05,"type":"quantitative","scale":{"domain":[-0.05,1.05],"nice":false,"zero":false},"axis":{"orient":"right","values":[0.125,0.375,0.625,0.875],"grid":true,"gridWidth":0.8,"labels":false,"ticks":false,"title":null}},"y2":{"datum":1.05}}},
  {"transform":[{"filter":"datum.n==2000 && datum.p==4"}],"mark":{"type":"line","strokeWidth":1.1,"opacity":0.75},"encoding":{
   "x":{"field":"x","type":"quantitative","scale":{"domain":[-0.05,1.05],"nice":false,"zero":false},"axis":{"values":[0,0.25,0.5,0.75,1],"grid":true,"labels":false,"ticks":false,"title":null}},
   "y":{"field":"y","type":"quantitative","scale":{"domain":[-0.05,1.05],"nice":false,"zero":false},"axis":{"values":[0,0.25,0.5,0.75,1],"grid":true,"labels":false,"ticks":false,"title":null}},
   "color":{"field":"g","type":"nominal","scale":{"domain":["1.5","2","2.5","3","5"],"range":["#1F80CF","#FDA550","#18AE88","#EC4A63","#6A4A55"]}},
   "strokeDash":{"field":"t","type":"nominal","scale":{"domain":["aware","unaware"],"range":[[1,0],[1.5,2]]}}}},
  {"transform":[{"filter":"datum.n==2000 && datum.p==4"}],"mark":{"type":"point","filled":true,"size":18,"opacity":1},"encoding":{
   "x":{"field":"x","type":"quantitative","scale":{"domain":[-0.05,1.05],"nice":false,"zero":false},"axis":null},
   "y":{"field":"y","type":"quantitative","scale":{"domain":[-0.05,1.05],"nice":false,"zero":false},"axis":null},
   "fill":{"field":"g","type":"nominal","scale":{"domain":["1.5","2","2.5","3","5"],"range":["#1F80CF","#FDA550","#18AE88","#EC4A63","#6A4A55"]},"legend":null}}}
 ],"resolve":{"axis":{"x":"independent","y":"independent"}}},
 {"width":10,"height":1,"data":{"values":[]},"mark":"text","encoding":{},"view":{"stroke":null}},
 {"width":274,"height":241,"layer":[
  {"data":{"values":[{}]},"mark":{"type":"rule","color":"black","strokeWidth":1},"encoding":{"x":{"datum":-0.05,"type":"quantitative","scale":{"domain":[-0.05,1.05],"nice":false,"zero":false},"axis":{"orient":"top","values":[0.125,0.375,0.625,0.875],"grid":true,"gridWidth":0.8,"labels":false,"ticks":false,"title":null}},"x2":{"datum":1.05},"y":{"datum":-0.05,"type":"quantitative","scale":{"domain":[-0.05,1.05],"nice":false,"zero":false},"axis":{"orient":"right","values":[0.125,0.375,0.625,0.875],"grid":true,"gridWidth":0.8,"labels":false,"ticks":false,"title":null}},"y2":{"datum":1.05}}},
  {"transform":[{"filter":"datum.n==5000 && datum.p==4"}],"mark":{"type":"line","strokeWidth":1.1,"opacity":0.75},"encoding":{
   "x":{"field":"x","type":"quantitative","scale":{"domain":[-0.05,1.05],"nice":false,"zero":false},"axis":{"values":[0,0.25,0.5,0.75,1],"grid":true,"labels":false,"ticks":false,"title":null}},
   "y":{"field":"y","type":"quantitative","scale":{"domain":[-0.05,1.05],"nice":false,"zero":false},"axis":{"values":[0,0.25,0.5,0.75,1],"grid":true,"labels":false,"ticks":false,"title":null}},
   "color":{"field":"g","type":"nominal","scale":{"domain":["1.5","2","2.5","3","5"],"range":["#1F80CF","#FDA550","#18AE88","#EC4A63","#6A4A55"]}},
   "strokeDash":{"field":"t","type":"nominal","scale":{"domain":["aware","unaware"],"range":[[1,0],[1.5,2]]}}}},
  {"transform":[{"filter":"datum.n==5000 && datum.p==4"}],"mark":{"type":"point","filled":true,"size":18,"opacity":1},"encoding":{
   "x":{"field":"x","type":"quantitative","scale":{"domain":[-0.05,1.05],"nice":false,"zero":false},"axis":null},
   "y":{"field":"y","type":"quantitative","scale":{"domain":[-0.05,1.05],"nice":false,"zero":false},"axis":null},
   "fill":{"field":"g","type":"nominal","scale":{"domain":["1.5","2","2.5","3","5"],"range":["#1F80CF","#FDA550","#18AE88","#EC4A63","#6A4A55"]},"legend":null}}}
 ],"resolve":{"axis":{"x":"independent","y":"independent"}}},
 {"width":33,"height":241,"data":{"values":[{"lab":"p=4"}]},"mark":{"type":"text","font":"Liberation Serif","fontSize":18,"angle":90,"color":"#1A1A1A"},"encoding":{"text":{"field":"lab"}},"view":{"fill":"#D9D9D9","stroke":"#333333","strokeWidth":1.3}},

 {"width":1,"height":11,"data":{"values":[]},"mark":"text","encoding":{},"view":{"stroke":null}},
 {"width":10,"height":11,"data":{"values":[]},"mark":"text","encoding":{},"view":{"stroke":null}},
 {"width":1,"height":11,"data":{"values":[]},"mark":"text","encoding":{},"view":{"stroke":null}},
 {"width":10,"height":11,"data":{"values":[]},"mark":"text","encoding":{},"view":{"stroke":null}},
 {"width":1,"height":11,"data":{"values":[]},"mark":"text","encoding":{},"view":{"stroke":null}},
 {"width":1,"height":11,"data":{"values":[]},"mark":"text","encoding":{},"view":{"stroke":null}},

 {"width":274,"height":241,"layer":[
  {"data":{"values":[{}]},"mark":{"type":"rule","color":"black","strokeWidth":1},"encoding":{"x":{"datum":-0.05,"type":"quantitative","scale":{"domain":[-0.05,1.05],"nice":false,"zero":false},"axis":{"orient":"top","values":[0.125,0.375,0.625,0.875],"grid":true,"gridWidth":0.8,"labels":false,"ticks":false,"title":null}},"x2":{"datum":1.05},"y":{"datum":-0.05,"type":"quantitative","scale":{"domain":[-0.05,1.05],"nice":false,"zero":false},"axis":{"orient":"right","values":[0.125,0.375,0.625,0.875],"grid":true,"gridWidth":0.8,"labels":false,"ticks":false,"title":null}},"y2":{"datum":1.05}}},
  {"transform":[{"filter":"datum.n==500 && datum.p==20"}],"mark":{"type":"line","strokeWidth":1.1,"opacity":0.75},"encoding":{
   "x":{"field":"x","type":"quantitative","scale":{"domain":[-0.05,1.05],"nice":false,"zero":false},"axis":{"values":[0,0.25,0.5,0.75,1],"format":".2f","grid":true,"title":null}},
   "y":{"field":"y","type":"quantitative","scale":{"domain":[-0.05,1.05],"nice":false,"zero":false},"axis":{"values":[0,0.25,0.5,0.75,1],"format":".2f","grid":true,"title":"actual coverage","titleY":-5.5,"titlePadding":8}},
   "color":{"field":"g","type":"nominal","scale":{"domain":["1.5","2","2.5","3","5"],"range":["#1F80CF","#FDA550","#18AE88","#EC4A63","#6A4A55"]}},
   "strokeDash":{"field":"t","type":"nominal","scale":{"domain":["aware","unaware"],"range":[[1,0],[1.5,2]]}}}},
  {"transform":[{"filter":"datum.n==500 && datum.p==20"}],"mark":{"type":"point","filled":true,"size":18,"opacity":1},"encoding":{
   "x":{"field":"x","type":"quantitative","scale":{"domain":[-0.05,1.05],"nice":false,"zero":false},"axis":null},
   "y":{"field":"y","type":"quantitative","scale":{"domain":[-0.05,1.05],"nice":false,"zero":false},"axis":null},
   "fill":{"field":"g","type":"nominal","scale":{"domain":["1.5","2","2.5","3","5"],"range":["#1F80CF","#FDA550","#18AE88","#EC4A63","#6A4A55"]},"legend":null}}}
 ],"resolve":{"axis":{"x":"independent","y":"independent"}}},
 {"width":10,"height":1,"data":{"values":[]},"mark":"text","encoding":{},"view":{"stroke":null}},
 {"width":274,"height":241,"layer":[
  {"data":{"values":[{}]},"mark":{"type":"rule","color":"black","strokeWidth":1},"encoding":{"x":{"datum":-0.05,"type":"quantitative","scale":{"domain":[-0.05,1.05],"nice":false,"zero":false},"axis":{"orient":"top","values":[0.125,0.375,0.625,0.875],"grid":true,"gridWidth":0.8,"labels":false,"ticks":false,"title":null}},"x2":{"datum":1.05},"y":{"datum":-0.05,"type":"quantitative","scale":{"domain":[-0.05,1.05],"nice":false,"zero":false},"axis":{"orient":"right","values":[0.125,0.375,0.625,0.875],"grid":true,"gridWidth":0.8,"labels":false,"ticks":false,"title":null}},"y2":{"datum":1.05}}},
  {"transform":[{"filter":"datum.n==2000 && datum.p==20"}],"mark":{"type":"line","strokeWidth":1.1,"opacity":0.75},"encoding":{
   "x":{"field":"x","type":"quantitative","scale":{"domain":[-0.05,1.05],"nice":false,"zero":false},"axis":{"values":[0,0.25,0.5,0.75,1],"format":".2f","grid":true,"title":"target coverage","titlePadding":4}},
   "y":{"field":"y","type":"quantitative","scale":{"domain":[-0.05,1.05],"nice":false,"zero":false},"axis":{"values":[0,0.25,0.5,0.75,1],"grid":true,"labels":false,"ticks":false,"title":null}},
   "color":{"field":"g","type":"nominal","scale":{"domain":["1.5","2","2.5","3","5"],"range":["#1F80CF","#FDA550","#18AE88","#EC4A63","#6A4A55"]}},
   "strokeDash":{"field":"t","type":"nominal","scale":{"domain":["aware","unaware"],"range":[[1,0],[1.5,2]]}}}},
  {"transform":[{"filter":"datum.n==2000 && datum.p==20"}],"mark":{"type":"point","filled":true,"size":18,"opacity":1},"encoding":{
   "x":{"field":"x","type":"quantitative","scale":{"domain":[-0.05,1.05],"nice":false,"zero":false},"axis":null},
   "y":{"field":"y","type":"quantitative","scale":{"domain":[-0.05,1.05],"nice":false,"zero":false},"axis":null},
   "fill":{"field":"g","type":"nominal","scale":{"domain":["1.5","2","2.5","3","5"],"range":["#1F80CF","#FDA550","#18AE88","#EC4A63","#6A4A55"]},"legend":null}}}
 ],"resolve":{"axis":{"x":"independent","y":"independent"}}},
 {"width":10,"height":1,"data":{"values":[]},"mark":"text","encoding":{},"view":{"stroke":null}},
 {"width":274,"height":241,"layer":[
  {"data":{"values":[{}]},"mark":{"type":"rule","color":"black","strokeWidth":1},"encoding":{"x":{"datum":-0.05,"type":"quantitative","scale":{"domain":[-0.05,1.05],"nice":false,"zero":false},"axis":{"orient":"top","values":[0.125,0.375,0.625,0.875],"grid":true,"gridWidth":0.8,"labels":false,"ticks":false,"title":null}},"x2":{"datum":1.05},"y":{"datum":-0.05,"type":"quantitative","scale":{"domain":[-0.05,1.05],"nice":false,"zero":false},"axis":{"orient":"right","values":[0.125,0.375,0.625,0.875],"grid":true,"gridWidth":0.8,"labels":false,"ticks":false,"title":null}},"y2":{"datum":1.05}}},
  {"transform":[{"filter":"datum.n==5000 && datum.p==20"}],"mark":{"type":"line","strokeWidth":1.1,"opacity":0.75},"encoding":{
   "x":{"field":"x","type":"quantitative","scale":{"domain":[-0.05,1.05],"nice":false,"zero":false},"axis":{"values":[0,0.25,0.5,0.75,1],"format":".2f","grid":true,"title":null}},
   "y":{"field":"y","type":"quantitative","scale":{"domain":[-0.05,1.05],"nice":false,"zero":false},"axis":{"values":[0,0.25,0.5,0.75,1],"grid":true,"labels":false,"ticks":false,"title":null}},
   "color":{"field":"g","type":"nominal","scale":{"domain":["1.5","2","2.5","3","5"],"range":["#1F80CF","#FDA550","#18AE88","#EC4A63","#6A4A55"]}},
   "strokeDash":{"field":"t","type":"nominal","scale":{"domain":["aware","unaware"],"range":[[1,0],[1.5,2]]}}}},
  {"transform":[{"filter":"datum.n==5000 && datum.p==20"}],"mark":{"type":"point","filled":true,"size":18,"opacity":1},"encoding":{
   "x":{"field":"x","type":"quantitative","scale":{"domain":[-0.05,1.05],"nice":false,"zero":false},"axis":null},
   "y":{"field":"y","type":"quantitative","scale":{"domain":[-0.05,1.05],"nice":false,"zero":false},"axis":null},
   "fill":{"field":"g","type":"nominal","scale":{"domain":["1.5","2","2.5","3","5"],"range":["#1F80CF","#FDA550","#18AE88","#EC4A63","#6A4A55"]},"legend":null}}}
 ],"resolve":{"axis":{"x":"independent","y":"independent"}}},
 {"width":33,"height":241,"data":{"values":[{"lab":"p=20"}]},"mark":{"type":"text","font":"Liberation Serif","fontSize":18,"angle":90,"color":"#1A1A1A"},"encoding":{"text":{"field":"lab"}},"view":{"fill":"#D9D9D9","stroke":"#333333","strokeWidth":1.3}}
]
}
